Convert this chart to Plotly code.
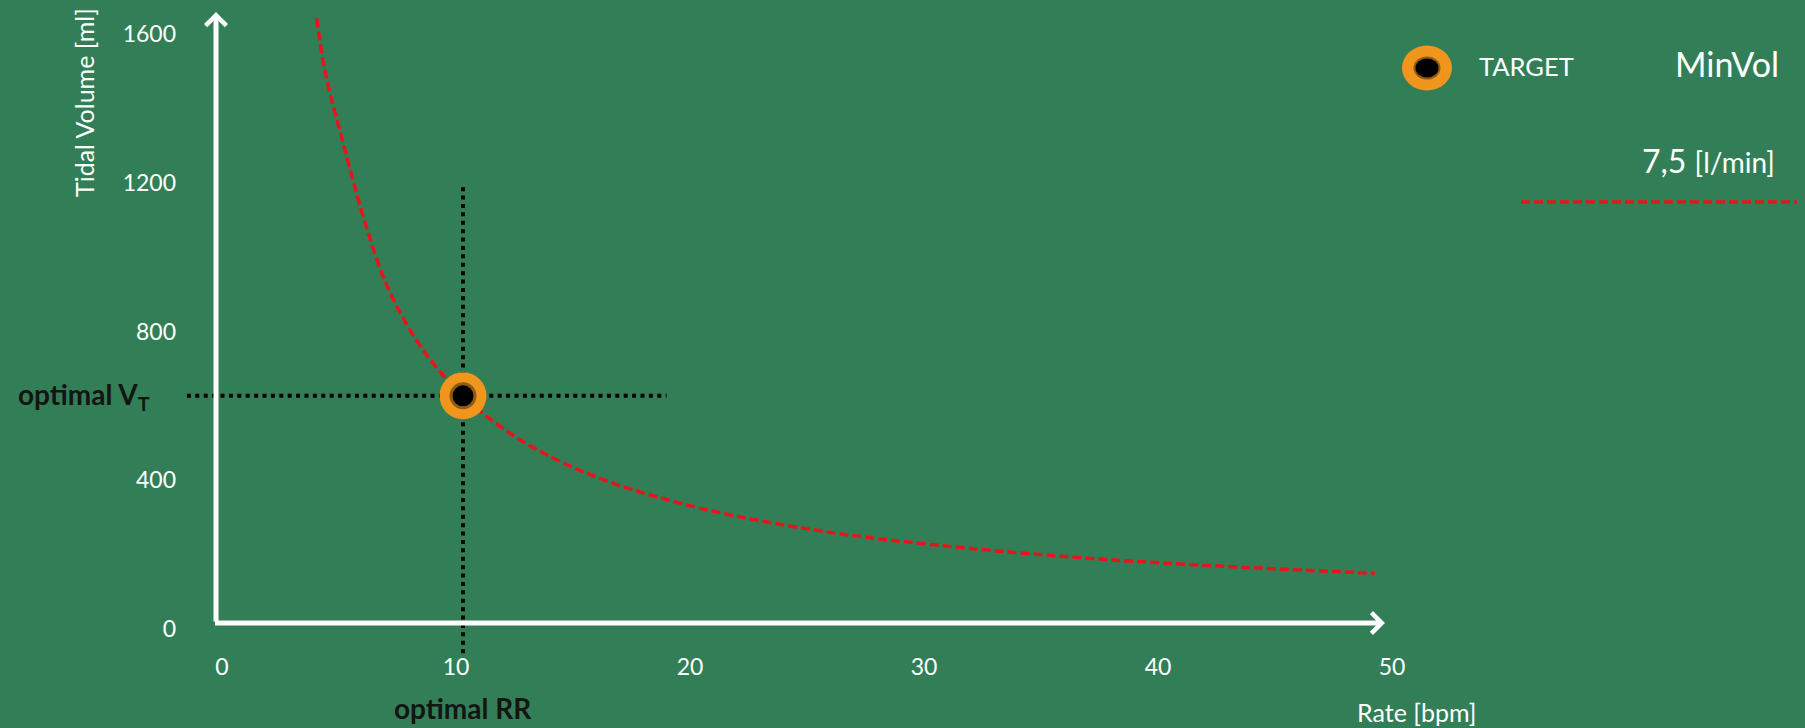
import plotly.graph_objects as go

# ---------------------------------------------------------------- data
rate_ticks = [0, 10, 20, 30, 40, 50]
volume_ticks = [0, 400, 800, 1200, 1600]

# isopleth of constant minute volume (7,5 l/min): tidal volume vs. rate
curve_rate = [4.05, 4.40, 5.21, 6.07, 7.01, 8.25, 9.53, 11.03, 13.16,
              16.15, 20.43, 25.56, 31.11, 37.52, 43.93, 49.27]
curve_volume = [1642, 1500, 1299, 1102, 929, 782, 677, 586, 493,
                405, 325, 264, 222, 188, 165, 150]

# operating point
optimal_rr = [10.3]
optimal_vt = [627]

# extent of the dotted guides through the operating point
guide_rate_span = [-1.5, 19.0]
guide_volume_span = [-65, 1195]

minvol_label = "7,5"
minvol_unit = "[l/min]"

# ---------------------------------------------------------------- layout constants
W, H = 1805, 728
BG = "#327f57"
RED = "#e8141c"
ORANGE = "#f0961c"
FONT = "Lato"

# pixel position of the value origin and pixels per unit on each axis
X_ORIGIN_PX, X_SCALE = 222.0, 23.4
Y_ORIGIN_PX, Y_SCALE = 629.0, 0.3719

# the drawn axis arrows
AXIS_X_PX, AXIS_Y_PX = 216.0, 623.0
ARROW_TOP_PX, ARROW_RIGHT_PX = 12.0, 1385.0


def dx(px):
    return (px - X_ORIGIN_PX) / X_SCALE


def dy(py):
    return (Y_ORIGIN_PX - py) / Y_SCALE


def px(x):
    return x / W


def py(y):
    return 1 - y / H


fig = go.Figure()

# dotted guides
fig.add_trace(go.Scatter(
    x=guide_rate_span, y=[optimal_vt[0]] * 2, mode="lines",
    line=dict(color="black", width=4, dash="4px,4.4px"), hoverinfo="skip"))
fig.add_trace(go.Scatter(
    x=[optimal_rr[0]] * 2, y=guide_volume_span, mode="lines",
    line=dict(color="black", width=4, dash="4px,4.4px"), hoverinfo="skip"))

# MinVol curve
fig.add_trace(go.Scatter(
    x=curve_rate, y=curve_volume, mode="lines",
    line=dict(color=RED, width=3.5, dash="9px,4px", shape="spline", smoothing=1.0),
    hoverinfo="skip"))

# target marker: orange disc, dark rim, black core
for size, color in [(47, ORANGE), (27, "#8f5c12"), (21, "black")]:
    fig.add_trace(go.Scatter(
        x=optimal_rr, y=optimal_vt, mode="markers",
        marker=dict(size=size, color=color, line=dict(width=0)),
        hoverinfo="skip", cliponaxis=False))

annotations = []
# axis arrows
annotations.append(dict(
    x=dx(AXIS_X_PX), y=dy(ARROW_TOP_PX), ax=dx(AXIS_X_PX), ay=dy(AXIS_Y_PX),
    xref="x", yref="y", axref="x", ayref="y", text="", showarrow=True,
    arrowhead=4, arrowsize=0.8, arrowwidth=5, arrowcolor="white", standoff=0))
annotations.append(dict(
    x=dx(ARROW_RIGHT_PX), y=dy(AXIS_Y_PX), ax=dx(AXIS_X_PX - 2.5), ay=dy(AXIS_Y_PX),
    xref="x", yref="y", axref="x", ayref="y", text="", showarrow=True,
    arrowhead=4, arrowsize=0.8, arrowwidth=5, arrowcolor="white", standoff=0))

# axis titles
annotations.append(dict(
    text="Tidal Volume [ml]", textangle=-90, x=px(84), y=py(103),
    xref="paper", yref="paper", xanchor="center", yanchor="middle", showarrow=False,
    font=dict(family=FONT, size=25, color="white")))
annotations.append(dict(
    text="Rate [bpm]", x=px(1416), y=py(712),
    xref="paper", yref="paper", xanchor="center", yanchor="middle", showarrow=False,
    font=dict(family=FONT, size=25, color="white")))

# operating point labels
annotations.append(dict(
    text="<b>optimal V<sub>T</sub></b>", x=px(152), y=optimal_vt[0],
    xref="paper", yref="y", xanchor="right", yanchor="middle", showarrow=False,
    font=dict(family=FONT, size=28, color="#141414")))
annotations.append(dict(
    text="<b>optimal RR</b>", x=optimal_rr[0], y=py(708),
    xref="x", yref="paper", xanchor="center", yanchor="middle", showarrow=False,
    font=dict(family=FONT, size=28, color="#141414")))

# key
annotations.append(dict(
    text="TARGET", x=px(1526), y=py(66), xref="paper", yref="paper",
    xanchor="center", yanchor="middle", showarrow=False,
    font=dict(family=FONT, size=25.5, color="white")))
annotations.append(dict(
    text="MinVol", x=px(1727), y=py(63), xref="paper", yref="paper",
    xanchor="center", yanchor="middle", showarrow=False,
    font=dict(family=FONT, size=34, color="white")))
annotations.append(dict(
    text=f"{minvol_label} <span style='font-size:28px'>{minvol_unit}</span>",
    x=px(1777), y=py(160), xref="paper", yref="paper",
    xanchor="right", yanchor="middle", showarrow=False,
    font=dict(family=FONT, size=32, color="white")))

shapes = []
cx, cy = 1427, 68
for rx, ry, color in [(25, 22.5, ORANGE), (13.5, 11.5, "#8f5c12"), (11.5, 9.5, "black")]:
    shapes.append(dict(
        type="circle", xref="paper", yref="paper",
        x0=px(cx - rx), x1=px(cx + rx), y0=py(cy + ry), y1=py(cy - ry),
        fillcolor=color, line=dict(width=0)))
shapes.append(dict(
    type="line", xref="paper", yref="paper",
    x0=px(1521), x1=px(1797), y0=py(202), y1=py(202),
    line=dict(color=RED, width=3.5, dash="9px,4px")))

fig.update_layout(
    width=W, height=H, margin=dict(l=0, r=0, t=0, b=0),
    paper_bgcolor=BG, plot_bgcolor=BG, showlegend=False,
    xaxis=dict(
        domain=[0, 1], range=[dx(0), dx(W)], anchor="free", position=py(AXIS_Y_PX),
        showline=False, showgrid=False, zeroline=False, ticks="",
        tickvals=rate_ticks, ticklabelstandoff=28,
        tickfont=dict(family=FONT, size=23, color="white")),
    yaxis=dict(
        domain=[0, 1], range=[dy(H), dy(0)], anchor="free", position=px(AXIS_X_PX),
        showline=False, showgrid=False, zeroline=False, ticks="",
        tickvals=volume_ticks, ticklabelstandoff=40,
        tickfont=dict(family=FONT, size=23, color="white")),
    annotations=annotations, shapes=shapes,
)

fig.write_html("out.html")
